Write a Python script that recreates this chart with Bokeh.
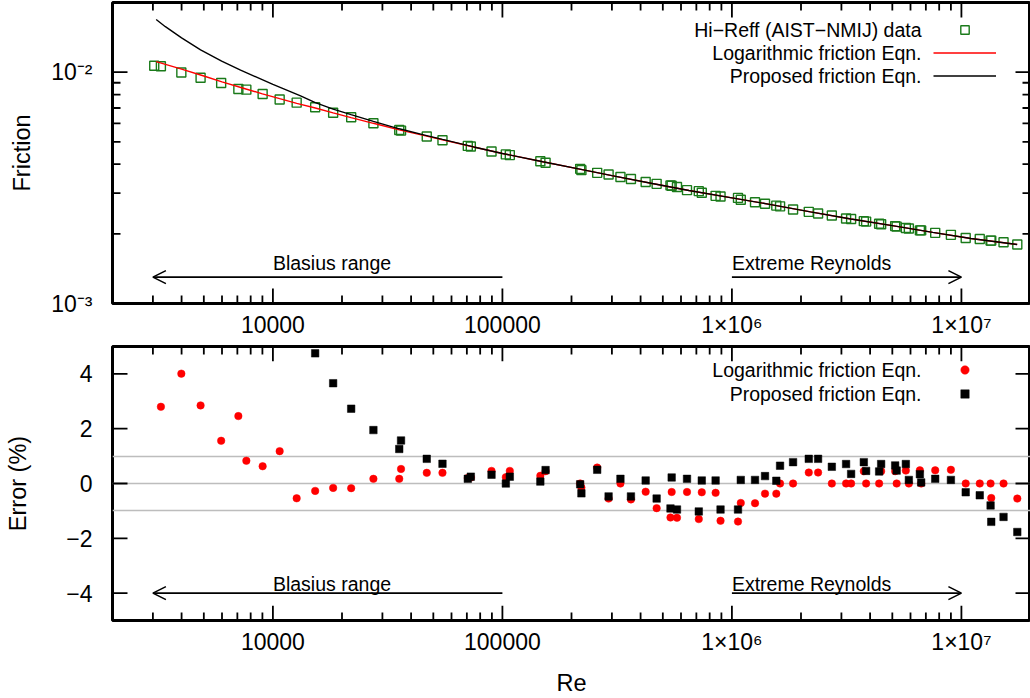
import math
from bokeh.plotting import figure
from bokeh.layouts import column
from bokeh.models import (FixedTicker, CustomJSTickFormatter,
                          Legend, LegendItem, Label, Arrow, OpenHead)
from bokeh.embed import file_html
from bokeh.resources import INLINE

nan = float("nan")

# ---------------- data ----------------
re_vals = [3040, 3250, 3990, 4840, 5950, 7070, 7660, 9020, 10700, 12690,
           15280, 18300, 21930, 27410, 35520, 36160, 46810, 54810, 70660, 72830,
           89650, 103500, 107700, 146300, 154200, 218200, 220900, 258800, 290200, 326800,
           363100, 420900, 469900, 539900, 546400, 576300, 637300, 717200, 739100, 849100,
           892100, 1063000, 1093000, 1261000, 1394000, 1561000, 1621000, 1847000, 2162000, 2374000,
           2725000, 3144000, 3307000, 3756000, 3844000, 4380000, 4469000, 5144000, 5222000, 5726000,
           5902000, 6592000, 6679000, 7688000, 8999000, 10440000, 12020000, 13400000, 13490000, 15260000,
           17520000]

friction_data = [0.01065, 0.01060, 0.00997, 0.00946, 0.00897, 0.00845, 0.00840, 0.00804, 0.00762, 0.00738,
                 0.00705, 0.00668, 0.00638, 0.00601, 0.00562, 0.00559, 0.00527, 0.00508, 0.00480, 0.00477,
                 0.00454, 0.00441, 0.00438, 0.00412, 0.00406, 0.00382, 0.00377, 0.00367, 0.00361, 0.00352,
                 0.00345, 0.00335, 0.00329, 0.00324, 0.00323, 0.00319, 0.00309, 0.00306, 0.00301, 0.00292,
                 0.00290, 0.00286, 0.00281, 0.00274, 0.00270, 0.00265, 0.00263, 0.00255, 0.00249, 0.00245,
                 0.00240, 0.00233, 0.00232, 0.00227, 0.00226, 0.00221, 0.00220, 0.00216, 0.00215, 0.00212,
                 0.00211, 0.00207, 0.00207, 0.00202, 0.00198, 0.00192, 0.00190, 0.00187, 0.00187, 0.00184,
                 0.00180]

err_log = [nan, 2.80, 4.01, 2.85, 1.56, 2.46, 0.83, 0.63, 1.18, -0.54,
           -0.27, -0.16, -0.17, 0.17, 0.17, 0.53, 0.39, 0.39, 0.20, 0.22,
           0.46, 0.23, 0.46, 0.28, 0.45, 0.00, -0.15, 0.58, -0.55, 0.00,
           -0.58, -0.30, -0.90, -1.24, -0.31, -1.25, -0.31, -1.30, -0.32, -0.34,
           -1.36, -1.39, -0.71, -0.72, -0.37, -0.37, 0.00, 0.00, 0.40, 0.40,
           0.00, 0.00, 0.00, 0.45, 0.00, 0.00, 0.45, 0.45, 0.00, 0.47,
           0.00, 0.48, 0.00, 0.48, 0.50, 0.00, 0.00, 0.00, -0.53, 0.00,
           -0.55]

err_prop = [nan, nan, nan, nan, nan, nan, nan, nan, nan, nan,
            4.75, 3.66, 2.73, 1.95, 1.26, 1.57, 0.90, 0.72, 0.17, 0.25,
            0.32, 0.00, 0.25, 0.07, 0.49, -0.03, -0.36, 0.50, -0.47, 0.17,
            -0.47, 0.11, -0.55, -0.91, 0.22, -0.95, 0.17, -1.02, 0.11, 0.11,
            -0.95, -0.95, 0.13, 0.13, 0.27, 0.10, 0.65, 0.78, 0.90, 0.90,
            0.61, 0.71, 0.35, 0.78, 0.46, 0.44, 0.71, 0.66, 0.47, 0.71,
            0.13, 0.34, 0.04, 0.17, 0.13, -0.32, -0.43, -0.80, -1.40, -1.22,
            -1.77]

log_line_re = [3100, 4000, 5000, 6000, 7500, 9000, 10700, 12700, 15300, 18300,
               21900, 27400, 35500, 46800, 54800, 75000, 100000, 150000, 220000, 300000,
               450000, 650000, 1000000, 1500000, 2200000, 3300000, 5000000, 7500000, 11000000, 17500000]
log_line_f = [0.01110, 0.01030, 0.00962, 0.00908, 0.00850, 0.00806, 0.00768, 0.00733, 0.00700, 0.00667,
              0.00636, 0.00601, 0.00563, 0.00529, 0.00510, 0.00475, 0.00445, 0.00410, 0.00380, 0.00357,
              0.00330, 0.00308, 0.00286, 0.00267, 0.00249, 0.00232, 0.00217, 0.00203, 0.00191, 0.00180]

prop_line_re = [3100, 3400, 4000, 4840, 5980, 7230, 10000, 13200, 15300, 18300,
                21900, 27400, 35500, 46800, 54800, 75000, 100000, 150000, 220000, 300000,
                450000, 650000, 1000000, 1500000, 2200000, 3300000, 5000000, 7500000, 11000000, 17500000]
prop_line_f = [0.01688, 0.01572, 0.01407, 0.01249, 0.01116, 0.01020, 0.00886, 0.00790, 0.00738, 0.00692,
               0.00655, 0.00613, 0.00569, 0.00532, 0.00512, 0.00475, 0.00445, 0.00410, 0.00380, 0.00357,
               0.00330, 0.00308, 0.00286, 0.00267, 0.00249, 0.00232, 0.00217, 0.00203, 0.00191, 0.00180]

x_range = (2000, 2e7)
fy_range = (1e-3, 2e-2)
ey_range = (-5, 5)

x_tick_values = [1e4, 1e5, 1e6, 1e7]
x_tick_labels = ["10000", "100000", "1×10⁶", "1×10⁷"]
x_minor_ticks = [m * 10 ** k for k in range(3, 8) for m in range(2, 10) if 2000 < m * 10 ** k < 2e7]
fy_tick_values = [1e-3, 1e-2]
fy_tick_labels = ["10⁻³", "10⁻²"]
fy_minor_ticks = [m * 1e-3 for m in range(2, 10)]
ey_tick_values = [-4, -2, 0, 2, 4]
ey_tick_labels = ["−4", "−2", "0", "2", "4"]
ref_lines = [-1, 0, 1]

blasius_range = (3000, 1e5)
extreme_range = (1e6, 1e7)
arrow_y_top = 0.0013
label_y_top = 0.00149
arrow_y_bot = -4.0
label_y_bot = -3.68

legend_top = ["Hi−Reff (AIST−NMIJ) data", "Logarithmic friction Eqn.", "Proposed friction Eqn."]
legend_bot = ["Logarithmic friction Eqn.", "Proposed friction Eqn."]

# ---------------- geometry / styling ----------------
W = 1030
LEFT, RIGHT = 112, 0
TOP_H, BOT_H = 340, 358
TOP_MT, TOP_MB = 2, 36
BOT_MT, BOT_MB = 6, 75
FRAME_W = W - LEFT - RIGHT
TOP_FH = TOP_H - TOP_MT - TOP_MB
BOT_FH = BOT_H - BOT_MT - BOT_MB
MAJ, MIN = 15, 8          # tick lengths (px), drawn inward

FONT = "Liberation Sans"
GREEN = "#1a7a1a"

FMT_CODE = """
for (let i = 0; i < vals.length; i++) {
  if (Math.abs(tick - vals[i]) <= 1e-6 * Math.abs(vals[i]) + 1e-12) { return labs[i]; }
}
return "";
"""


def fmt(vals, labs):
    return CustomJSTickFormatter(args=dict(vals=vals, labs=labs), code=FMT_CODE)


def style_axis(ax):
    ax.major_tick_in = 0
    ax.major_tick_out = 0
    ax.minor_tick_in = 0
    ax.minor_tick_out = 0
    ax.axis_line_color = None
    ax.major_label_text_font = FONT
    ax.major_label_text_font_size = "23px"
    ax.major_label_text_color = "black"
    ax.axis_label_text_font = FONT
    ax.axis_label_text_font_size = "23.5px"
    ax.axis_label_text_font_style = "normal"
    ax.axis_label_text_color = "black"


def frame_style(p):
    p.outline_line_color = "black"
    p.outline_line_width = 3
    p.outline_line_alpha = 1
    p.background_fill_color = "white"
    p.border_fill_color = "white"
    p.xgrid.visible = False


def log_step(rng, npx, length):
    lo, hi = rng
    return (hi / lo) ** (length / npx)


def tick_segments(ylog, yrng, fh, y_major, y_minor):
    """Inward tick marks on all four frame edges, as plain two-point polylines."""
    x0, x1 = x_range
    y0, y1 = yrng
    xs, ys = [], []
    for vals, L in [(x_tick_values, MAJ), (x_minor_ticks, MIN)]:
        for t in vals:
            if ylog:
                f = log_step(yrng, fh, L)
                segs = [(y0, y0 * f), (y1, y1 / f)]
            else:
                d = (y1 - y0) * L / fh
                segs = [(y0, y0 + d), (y1, y1 - d)]
            for a, b in segs:
                xs += [t, t, nan]
                ys += [a, b, nan]
    for vals, L in [(y_major, MAJ), (y_minor, MIN)]:
        for t in vals:
            f = log_step(x_range, FRAME_W, L)
            for a, b in [(x0, x0 * f), (x1, x1 / f)]:
                xs += [a, b, nan]
                ys += [t, t, nan]
    return xs, ys


# ---------------- top panel ----------------
p1 = figure(width=W, height=TOP_H, x_axis_type="log", y_axis_type="log",
            x_range=x_range, y_range=fy_range,
            output_backend="svg", toolbar_location=None,
            min_border_left=LEFT, min_border_right=RIGHT,
            min_border_top=TOP_MT, min_border_bottom=TOP_MB)
frame_style(p1)
p1.ygrid.visible = False

ax = p1.xaxis[0]
ax.ticker = FixedTicker(ticks=x_tick_values)
ax.formatter = fmt(x_tick_values, x_tick_labels)
style_axis(ax)
ax.major_label_standoff = 8
ay = p1.yaxis[0]
ay.ticker = FixedTicker(ticks=fy_tick_values)
ay.formatter = fmt(fy_tick_values, fy_tick_labels)
style_axis(ay)
ay.major_label_standoff = 20
ay.axis_label = "Friction"
ay.axis_label_standoff = 13

sq_r = p1.scatter(re_vals, friction_data, marker="square", size=9, fill_color=None,
                  line_color=GREEN, line_width=1.4)
red_r = p1.line(log_line_re, log_line_f, line_color="#ff0000", line_width=1.4)
blk_r = p1.line(prop_line_re, prop_line_f, line_color="black", line_width=1.4)
txs, tys = tick_segments(True, fy_range, TOP_FH, fy_tick_values, fy_minor_ticks)
p1.line(txs, tys, line_color="black", line_width=1.8)

leg1 = Legend(items=[LegendItem(label=" ", renderers=[sq_r]),
                     LegendItem(label=" ", renderers=[red_r]),
                     LegendItem(label=" ", renderers=[blk_r])],
              location=(821, 217.5), glyph_width=63, glyph_height=21, spacing=2,
              padding=0, margin=0, border_line_color=None, background_fill_alpha=0,
              label_text_font_size="1px", label_standoff=0, label_width=1, label_height=1)
p1.add_layout(leg1)
for txt, yy in zip(legend_top, [274, 251, 228]):
    p1.add_layout(Label(x=809, y=yy, x_units="screen", y_units="screen", text=txt,
                        text_align="right", text_baseline="middle", text_font=FONT,
                        text_font_size="19.5px", text_color="black"))

# ---------------- bottom panel ----------------
p2 = figure(width=W, height=BOT_H, x_axis_type="log",
            x_range=x_range, y_range=ey_range,
            output_backend="svg", toolbar_location=None,
            min_border_left=LEFT, min_border_right=RIGHT,
            min_border_top=BOT_MT, min_border_bottom=BOT_MB)
frame_style(p2)
p2.ygrid.ticker = FixedTicker(ticks=ref_lines)
p2.ygrid.grid_line_color = "#bdbdbd"
p2.ygrid.grid_line_width = 1.6

bx = p2.xaxis[0]
bx.ticker = FixedTicker(ticks=x_tick_values)
bx.formatter = fmt(x_tick_values, x_tick_labels)
style_axis(bx)
bx.major_label_standoff = 8
bx.axis_label = "Re"
bx.axis_label_standoff = 12
by = p2.yaxis[0]
by.ticker = FixedTicker(ticks=ey_tick_values)
by.formatter = fmt(ey_tick_values, ey_tick_labels)
style_axis(by)
by.major_label_standoff = 20
by.axis_label = "Error (%)"
by.axis_label_standoff = 32

bxs, bys = tick_segments(False, ey_range, BOT_FH, ey_tick_values, [])
p2.line(bxs, bys, line_color="black", line_width=1.8)

rc_r = p2.scatter(re_vals, err_log, marker="circle", size=7.5, fill_color="#ff0000",
                  line_color="#ff0000", line_width=0.5)
bs_r = p2.scatter(re_vals, err_prop, marker="square", size=7.5, fill_color="black",
                  line_color="black", line_width=0.5)

leg2 = Legend(items=[LegendItem(label=" ", renderers=[rc_r]),
                     LegendItem(label=" ", renderers=[bs_r])],
              location=(821, 215.8), glyph_width=63, glyph_height=21, spacing=3,
              padding=0, margin=0, border_line_color=None, background_fill_alpha=0,
              label_text_font_size="1px", label_standoff=0, label_width=1, label_height=1)
p2.add_layout(leg2)
for txt, yy in zip(legend_bot, [250.3, 226.3]):
    p2.add_layout(Label(x=809, y=yy, x_units="screen", y_units="screen", text=txt,
                        text_align="right", text_baseline="middle", text_font=FONT,
                        text_font_size="19.5px", text_color="black"))

# ---------------- range arrows ----------------
for p, ya, yl in [(p1, arrow_y_top, label_y_top), (p2, arrow_y_bot, label_y_bot)]:
    p.add_layout(Arrow(x_start=blasius_range[1], y_start=ya, x_end=blasius_range[0], y_end=ya,
                       line_width=1.6, line_color="black",
                       end=OpenHead(size=13, line_width=1.6, line_color="black")))
    p.add_layout(Arrow(x_start=extreme_range[0], y_start=ya, x_end=extreme_range[1], y_end=ya,
                       line_width=1.6, line_color="black",
                       end=OpenHead(size=13, line_width=1.6, line_color="black")))
    p.add_layout(Label(x=1e4, y=yl, text="Blasius range", text_align="left",
                       text_baseline="alphabetic", text_font=FONT, text_font_size="19.5px",
                       text_color="black"))
    p.add_layout(Label(x=extreme_range[0], y=yl, text="Extreme Reynolds", text_align="left",
                       text_baseline="alphabetic", text_font=FONT, text_font_size="19.5px",
                       text_color="black"))

layout = column(p1, p2, spacing=0)
open("out.html", "w").write(file_html(layout, INLINE))
